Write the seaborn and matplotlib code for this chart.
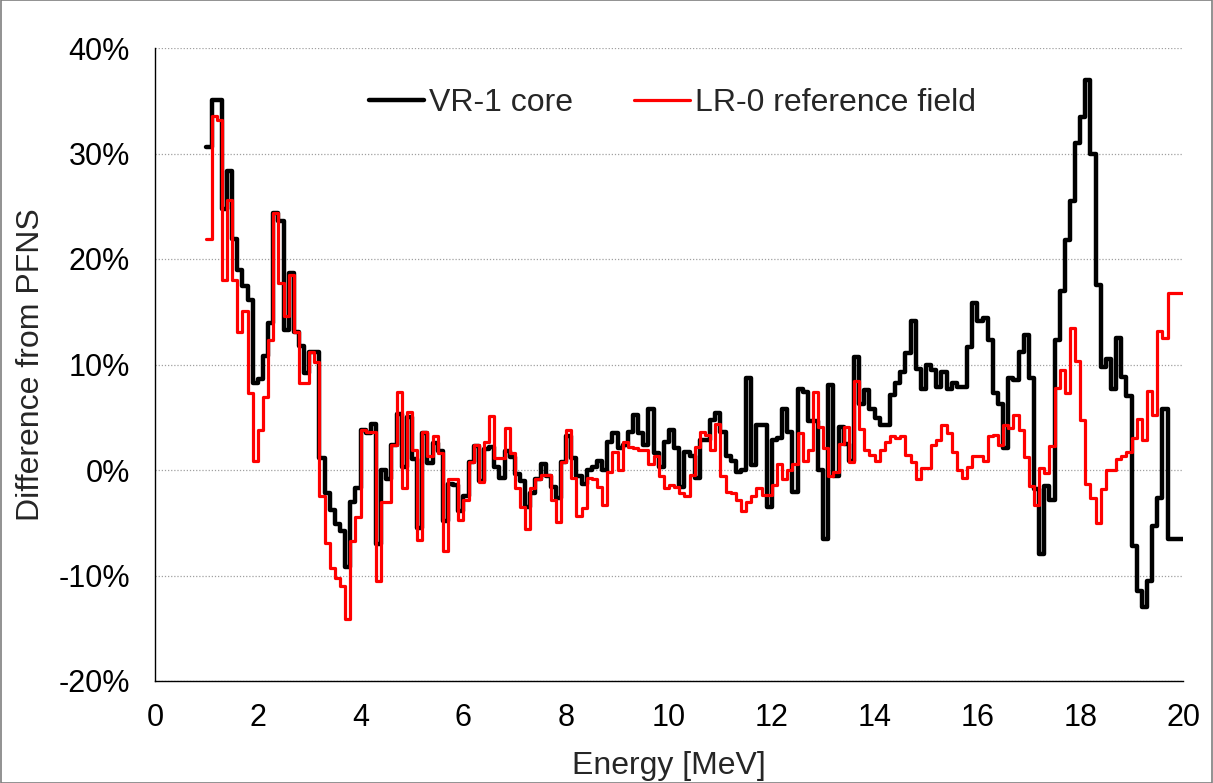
import numpy as np
import pandas as pd
import matplotlib
matplotlib.use("Agg")
import matplotlib.pyplot as plt
import seaborn as sns
from matplotlib.lines import Line2D
from matplotlib.patches import Rectangle
from matplotlib.ticker import FuncFormatter

# Energy group boundaries [MeV], 0.1 MeV groups from 1 to 20 MeV
energy_edges = np.round(np.linspace(1.0, 20.0, 191), 1)

# Relative difference from the PFNS per energy group [%]
vr1_core = [
    30.6, 35.1, 35.1, 24.7, 28.3, 21.9, 19.0, 17.4, 16.1, 8.2,
    8.6, 10.8, 13.9, 24.4, 23.6, 13.3, 18.7, 13.1, 11.8, 9.2,
    11.2, 11.2, 1.1, -2.2, -3.8, -5.1, -5.8, -9.2, -3.0, -1.7,
    3.8, 3.5, 4.4, -7.0, 0.0, -0.9, 2.4, 5.3, 0.3, 5.0,
    1.0, -5.5, 3.5, 0.7, 2.6, 1.8, -4.8, -1.3, -1.4, -3.9,
    -2.5, 0.8, 2.3, -1.0, 2.0, 2.2, 0.3, -0.8, 1.8, 1.2,
    -0.4, -1.0, -3.5, -2.2, -0.9, 0.6, -0.6, -1.6, -2.7, 0.8,
    3.2, 1.1, -0.6, -1.3, 0.0, 0.3, 0.9, 0.0, 2.7, 3.5,
    2.1, 2.4, 3.6, 5.2, 3.5, 2.4, 5.8, 1.6, 0.3, 2.7,
    3.8, 2.1, -1.6, 1.7, 1.3, -0.8, 2.8, 2.8, 4.7, 5.4,
    3.6, 1.3, 0.9, -0.2, 0.0, 8.7, 0.5, 4.3, 4.3, -3.5,
    2.8, 3.0, 5.8, 3.6, -2.1, 7.7, 7.4, 4.6, 4.6, 0.0,
    -6.5, 8.1, -0.6, 4.1, 2.5, 0.9, 10.7, 6.3, 7.6, 5.8,
    4.9, 4.3, 4.3, 7.1, 8.2, 9.3, 11.1, 14.1, 9.6, 7.7,
    10.0, 9.5, 7.9, 9.3, 7.7, 8.2, 7.9, 7.9, 11.7, 15.8,
    14.1, 14.4, 12.3, 7.3, 6.3, 2.1, 8.7, 8.5, 11.2, 12.8,
    8.7, -1.8, -8.0, -1.5, -2.8, 12.3, 17.0, 21.8, 25.5, 31.0,
    33.5, 37.0, 30.0, 17.5, 9.8, 10.5, 7.7, 12.5, 8.8, 7.0,
    -7.2, -11.5, -13.0, -10.5, -5.3, -2.7, 5.8, -6.5, -6.5, -6.5,
]

lr0_field = [
    21.9, 33.6, 33.2, 18.0, 25.6, 18.0, 13.1, 15.1, 7.3, 0.9,
    3.8, 6.9, 12.3, 24.4, 17.7, 14.6, 18.5, 13.1, 8.2, 8.2,
    11.2, 10.2, -2.5, -6.9, -9.3, -10.2, -11.0, -14.1, -6.7, -4.5,
    3.8, 3.6, 3.6, -10.5, -3.0, -3.0, 2.4, 7.4, -1.7, 5.5,
    1.9, -6.6, 3.6, 1.3, 3.2, 1.6, -7.7, -0.9, -0.9, -4.7,
    -2.8, 0.8, 2.4, -1.1, 2.7, 5.1, 1.1, 1.1, 4.0, 1.6,
    -1.7, -3.5, -5.6, -1.7, -0.9, -0.5, -0.5, -2.8, -4.9, 0.8,
    3.8, -0.8, -4.4, -3.6, -0.8, -0.9, -1.6, -3.3, -0.2, 1.7,
    0.0, 2.7, 2.2, 2.1, 1.9, 1.9, 0.6, 1.3, -0.6, -1.7,
    -1.4, -1.6, -2.2, -2.5, -0.5, 2.2, 3.6, 3.3, 1.9, 4.4,
    -0.6, -2.1, -2.2, -2.8, -3.9, -3.0, -2.5, -1.7, -2.4, -2.4,
    -1.4, 0.6, -0.9, 0.0, 0.6, 3.5, 0.9, 1.9, 7.4, 4.1,
    2.1, -0.6, -0.2, 2.5, 4.1, 0.8, 8.4, 3.9, 1.9, 1.4,
    0.9, 1.9, 2.7, 3.2, 3.0, 3.2, 1.4, 0.8, -0.9, 0.2,
    0.2, 2.4, 2.8, 4.3, 3.5, 1.7, 0.0, -0.8, 0.3, 1.3,
    1.3, 0.9, 3.2, 3.3, 2.4, 4.3, 4.0, 5.2, 3.8, 1.2,
    -1.5, -3.3, 0.2, -0.3, 2.3, 7.8, 9.5, 7.3, 13.5, 10.3,
    4.7, -1.3, -2.7, -5.0, -1.8, 0.0, 0.0, 1.0, 1.3, 1.7,
    3.0, 4.8, 2.8, 7.5, 5.2, 13.2, 12.5, 16.8, 16.8, 16.8,
]

series_names = ["VR-1 core", "LR-0 reference field"]
series_colors = ["#000000", "#ff0000"]
series_widths = [3.2, 2.3]
y_ticks = [-20, -10, 0, 10, 20, 30, 40]
x_ticks = [0, 2, 4, 6, 8, 10, 12, 14, 16, 18, 20]


def group_frame(values):
    # repeat the last group value at the upper edge so the final step is drawn
    return pd.DataFrame({"Energy": energy_edges,
                         "Difference": list(values) + [values[-1]]})


sns.set_style("white")
plt.rcParams["font.family"] = ["Liberation Sans", "DejaVu Sans"]

fig = plt.figure(figsize=(12.13, 7.83), dpi=100)
ax = fig.add_axes([155 / 1213, 1 - 681 / 783, (1183 - 155) / 1213, (681 - 48) / 783])

for values, color, lw in zip([vr1_core, lr0_field], series_colors, series_widths):
    sns.lineplot(data=group_frame(values), x="Energy", y="Difference",
                 estimator=None, sort=False, drawstyle="steps-post",
                 color=color, linewidth=lw, ax=ax, legend=False)

ax.set_xlim(0, 20)
ax.set_ylim(-20, 40)
ax.set_xticks(x_ticks)
ax.set_yticks(y_ticks)
ax.yaxis.set_major_formatter(FuncFormatter(lambda v, _: f"{int(round(v))}%"))
ax.grid(axis="y", color="#a0a0a0", linestyle=(0, (1, 1.5)), linewidth=0.9)
ax.grid(axis="x", visible=False)
ax.set_axisbelow(True)

for side in ["top", "right"]:
    ax.spines[side].set_visible(False)
for side in ["left", "bottom"]:
    ax.spines[side].set_color("black")
    ax.spines[side].set_linewidth(1.0)

ax.tick_params(axis="both", direction="out", length=6, width=1.0, color="black",
               labelsize=22, labelcolor="black")
ax.tick_params(axis="y", pad=12)
ax.tick_params(axis="x", pad=10)

ax.set_xlabel("Energy [MeV]", fontsize=23)
ax.set_ylabel("Difference from PFNS", fontsize=23)
ax.xaxis.set_label_coords(0.5, (681 - 766) / 633, transform=ax.transAxes)
ax.yaxis.set_label_coords((31 - 155) / 1028, 0.5, transform=ax.transAxes)
ax.xaxis.label.set_va("center")
ax.yaxis.label.set_va("center")

handles = [Line2D([0], [0], color=c, linewidth=w) for c, w in zip(series_colors, series_widths)]
ax.legend(handles, series_names, loc="center", bbox_to_anchor=(0.503, 0.913),
          ncol=2, frameon=False, fontsize=23, handlelength=1.75,
          handletextpad=0.15, columnspacing=1.9)

# thin frame around the whole chart area
fig.patches.append(Rectangle((0.0005, 0.0005), 0.999, 0.999, transform=fig.transFigure,
                             fill=False, edgecolor="#7f7f7f", linewidth=1.2))

fig.savefig("out.png", dpi=100)
